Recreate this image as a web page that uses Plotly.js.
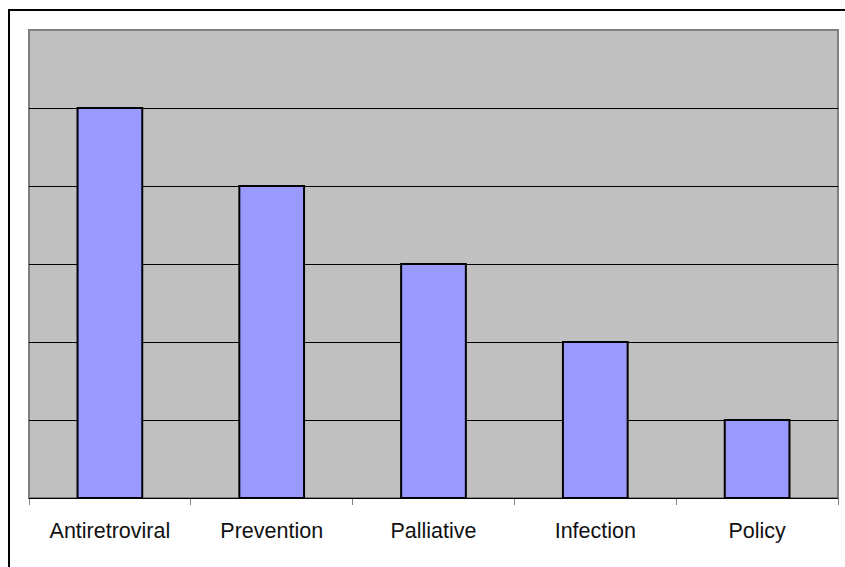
<!DOCTYPE html>
<html><head><meta charset="utf-8">
<script src="https://cdn.plot.ly/plotly-3.0.1.min.js"></script>
<style>html,body{margin:0;padding:0;background:#fff;}#frame{position:absolute;left:8px;top:9px;width:900px;height:700px;border-left:2px solid #000;border-top:2px solid #000;pointer-events:none;}</style>
</head><body>
<div id="chart" style="width:845px;height:567px;"></div>
<div id="frame"></div>
<script>
const categories = ["Antiretroviral", "Prevention", "Palliative", "Infection", "Policy"];
const values = [5, 4, 3, 2, 1];
const yMax = 6;

Plotly.newPlot("chart", [{
  type: "bar",
  x: categories,
  y: values,
  width: 0.4,
  marker: {color: "#9999ff", line: {color: "#000000", width: 2}},
  hoverinfo: "none"
}], {
  width: 845, height: 567,
  margin: {l: 29, r: 7, t: 30, b: 69},
  paper_bgcolor: "#ffffff",
  plot_bgcolor: "#c0c0c0",
  showlegend: false,
  font: {family: "Liberation Sans, Arial, sans-serif", size: 16, color: "#000"},
  xaxis: {
    type: "category",
    tickson: "boundaries",
    ticks: "outside", ticklen: 6, tickcolor: "#808080", tickwidth: 1,
    showline: true, linecolor: "#000", linewidth: 1,
    showgrid: false,
    ticklabelstandoff: 13,
    tickfont: {size: 21.5, color: "#111"}
  },
  yaxis: {
    range: [0, yMax],
    dtick: 1,
    showticklabels: false,
    showgrid: true, gridcolor: "#000", gridwidth: 1,
    zeroline: false,
    ticks: ""
  },
  shapes: [{
    type: "rect", xref: "paper", yref: "paper", x0: 0, x1: 1, y0: 0, y1: 1,
    line: {color: "#808080", width: 2}, layer: "below"
  }]
}, {staticPlot: true});
</script>
</body></html>
